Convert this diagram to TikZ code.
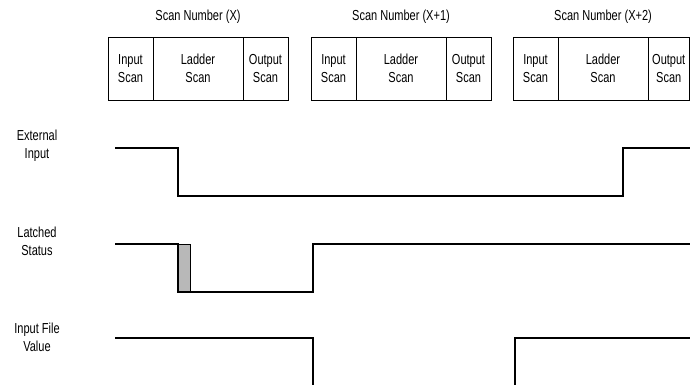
\documentclass[tikz,border=0pt]{standalone}
\usepackage{fontspec}
\setmainfont{Liberation Sans}[FakeStretch=0.76]
\begin{document}
\begin{tikzpicture}[x=1pt,y=-1pt,
  lbl/.style={font=\fontsize{14.5}{18}\selectfont, align=center, inner sep=0pt},
  cell/.style={lbl, draw, line width=0.8pt, minimum height=63pt},
  wave/.style={line width=1.2pt, line join=miter}
]
\useasboundingbox (0,0) rectangle (690,384);
% titles
\node[lbl] (t1) at (198,17) {Scan Number (X)};
\node[lbl] (t2) at (401,17) {Scan Number (X+1)};
\node[lbl] (t3) at (603,17) {Scan Number (X+2)};
% scan boxes
\node[cell, minimum width=45pt] (in1) at (130.5,68.5) {Input\\Scan};
\node[cell, minimum width=90pt] (ld1) at (198,68.5) {Ladder\\Scan};
\node[cell, minimum width=45pt] (out1) at (265.5,68.5) {Output\\Scan};
\node[cell, minimum width=45pt] (in2) at (333.5,68.5) {Input\\Scan};
\node[cell, minimum width=90pt] (ld2) at (401,68.5) {Ladder\\Scan};
\node[cell, minimum width=45pt] (out2) at (468.5,68.5) {Output\\Scan};
\node[cell, minimum width=45pt] (in3) at (535.5,68.5) {Input\\Scan};
\node[cell, minimum width=90pt] (ld3) at (603,68.5) {Ladder\\Scan};
\node[cell, minimum width=41.5pt] (out3) at (668.75,68.5) {Output\\Scan};
% signal labels
\node[lbl] (l1) at (37,146) {External\\Input};
\node[lbl] (l2) at (37,241) {Latched\\Status};
\node[lbl] (l3) at (37,337) {Input File\\Value};
% External Input
\draw[wave] (115,148) -- (178,148) -- (178,196) -- (623,196) -- (623,148) -- (690,148);
% Latched Status
\draw[line width=0.8pt, fill=black!28] (178,244) rectangle (190,292);
\draw[wave] (115,244) -- (178,244) -- (178,292) -- (313,292) -- (313,244) -- (690,244);
% Input File Value
\draw[wave] (115,338) -- (313,338) -- (313,385);
\draw[wave] (515,385) -- (515,338) -- (690,338);
\end{tikzpicture}
\end{document}
